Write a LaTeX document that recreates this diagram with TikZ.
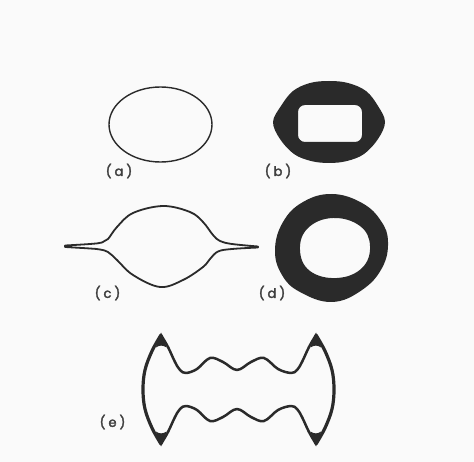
\documentclass[tikz,border=0pt]{standalone}
\usepackage{tikz}
\usepackage{fontspec}
\newfontfamily\labelfont[FakeBold=2.5]{Poppins}
\definecolor{ink}{RGB}{42,42,42}
\definecolor{paper}{RGB}{250,250,250}
\tikzset{
  caption/.style={font=\labelfont\fontsize{13}{15}\selectfont, text=ink!90, inner sep=0pt},
  outline/.style={draw=ink, line join=round, line cap=round},
}
\newcommand{\spaced}[1]{(\hspace{3pt}#1\hspace{3pt})}

\begin{document}
\begin{tikzpicture}[x=1pt,y=-1pt]
  \fill[paper] (0,0) rectangle (474,462);
  \useasboundingbox (0,0) rectangle (474,462);
  %% (a) plain ellipse
  \draw[outline, line width=1.4] (160.5,124.5) ellipse (51.5 and 37.5);
  \node[caption] (labela) at (119,171) {\spaced{a}};
  %% (b) thick ring, rectangular hole
  \fill[ink, even odd rule]
    plot[smooth cycle, tension=0.6] coordinates {(273,122) (281,106) (293,91) (310,83) (329,81) (348,83)
      (366,91) (378,106) (385,122) (378,139) (364,154) (347,161) (329,163) (311,161) (294,154) (280,139)}
    [rounded corners=7] (298,105) rectangle (362,142);
  \node[caption] (labelb) at (278,171) {\spaced{b}};
  %% (c) lens with thin spikes
  \draw[outline, line width=1.8]
    plot[smooth, tension=0.6] coordinates {(65,245.5) (90,244) (102,242.5) (108,239) (117,227) (133,213)
      (163,206) (190,212) (203,222) (213,235) (220,241) (232,244) (258,246.5)}
    -- plot[smooth, tension=0.6] coordinates {(258,247.5) (232,249) (218,251.5) (210,259) (203,267)
      (183,280) (160,287) (133,275) (117,260) (108,252) (100,249.5) (90,248.5) (65,247)}
    -- cycle;
  \node[caption] (labelc) at (107.5,293) {\spaced{c}};
  %% (d) thick ring, round hole
  \fill[ink, even odd rule]
    plot[smooth cycle, tension=0.7] coordinates {(275,250) (283,222) (303,202) (332,194) (362,203) (381,221)
      (388,242) (382,268) (362,290) (332,302) (300,292) (282,275)}
    plot[smooth cycle, tension=0.7] coordinates {(300,250) (308,228) (333,218) (360,226) (370,246)
      (362,268) (337,278) (310,271)};
  \node[caption] (labeld) at (272,293) {\spaced{d}};
  %% (e) wavy outline with four pointed lobes
  \draw[outline, line width=3.2]
    plot[smooth, tension=0.6] coordinates {(161,444) (152,428) (145,409) (143,389.5) (145,370) (152,351) (161,335)};
  \draw[outline, line width=3.2]
    plot[smooth, tension=0.6] coordinates {(316,335) (325,351) (332,370) (334,389.5) (332,409) (325,428) (316,444)};
  \draw[outline, line width=2.5]
    plot[smooth, tension=0.6] coordinates {(161,335) (168,347) (175,362) (180,370) (186,373) (197,369)
      (210,358) (223,362) (237,370) (251,362) (264,358) (278,369) (291,373) (297,370) (302,362)
      (309,347) (316,335)};
  \draw[outline, line width=2.5]
    plot[smooth, tension=0.6] coordinates {(161,444) (168,432) (175,417) (180,409) (186,406) (197,410)
      (210,421) (223,417) (237,409) (251,417) (264,421) (278,410) (291,406) (297,409) (302,417)
      (309,432) (316,444)};
  \begin{scope}[shift={(238.5,389.5)}]
    \foreach \sx/\sy in {1/1,-1/1,1/-1,-1/-1}
      \fill[ink, xscale=\sx, yscale=\sy] (-77.5,-57) .. controls (-79.5,-52) and (-81.5,-47) .. (-82.5,-42)
        .. controls (-79.5,-44.5) and (-75.5,-44.5) .. (-72,-42) .. controls (-73.5,-47) and (-75.5,-52) .. cycle;
  \end{scope}
  \node[caption] (labele) at (112.5,422) {\spaced{e}};
\end{tikzpicture}
\end{document}
